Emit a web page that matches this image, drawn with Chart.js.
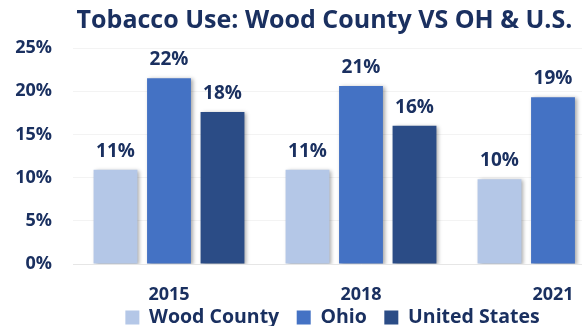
<!DOCTYPE html>
<html>
<head>
<meta charset="utf-8">
<script src="https://cdn.jsdelivr.net/npm/chart.js@4"></script>
<style>
  html, body { margin: 0; padding: 0; background: #fff; overflow: hidden; }
  #wrap { width: 660px; height: 326px; }
</style>
</head>
<body>
<div id="wrap"><canvas id="chart"></canvas></div>
<script>
// values (percent)
var years = ['2015', '2018', '2021'];
var woodCounty = [10.9, 10.9, 9.8];
var ohio = [21.5, 20.6, 19.3];
var unitedStates = [17.6, 16.0, 14.0];
var yTicks = [0, 5, 10, 15, 20, 25];

var navy = '#1a3060';
var fontFamily = '"Open Sans", Lato, sans-serif';
var legendPad = 17.5;

// soft shadow under the bars
var barShadow = {
  id: 'barShadow',
  beforeDatasetsDraw: function(chart) {
    var ctx = chart.ctx;
    ctx.save();
    ctx.shadowColor = 'rgba(0,0,0,0.35)';
    ctx.shadowBlur = 4;
    ctx.shadowOffsetX = 2;
    ctx.shadowOffsetY = 1;
  },
  afterDatasetsDraw: function(chart) {
    chart.ctx.restore();
  }
};

// value labels above each bar
var valueLabels = {
  id: 'valueLabels',
  afterDatasetsDraw: function(chart) {
    var ctx = chart.ctx;
    ctx.save();
    ctx.font = 'bold 19px ' + fontFamily;
    ctx.fillStyle = navy;
    ctx.textAlign = 'center';
    ctx.textBaseline = 'alphabetic';
    chart.data.datasets.forEach(function(ds, i) {
      var meta = chart.getDatasetMeta(i);
      meta.data.forEach(function(bar, j) {
        ctx.fillText(Math.round(ds.data[j]) + '%', bar.x, bar.y - 13);
      });
    });
    ctx.restore();
  }
};

// legend item padding also pads the top of the legend box; pull it back up
var legendLift = {
  id: 'legendLift',
  afterLayout: function(chart) {
    var lg = chart.legend;
    lg.top -= legendPad - 1.75;
    lg.bottom -= legendPad - 1.75;
    lg.left += 8;
    lg.right += 8;
  }
};

var ctx = document.getElementById('chart').getContext('2d');
var chart = new Chart(ctx, {
  type: 'bar',
  data: {
    labels: years,
    datasets: [
      { label: 'Wood County', data: woodCounty, backgroundColor: '#b4c7e7' },
      { label: 'Ohio', data: ohio, backgroundColor: '#4472c4' },
      { label: 'United States', data: unitedStates, backgroundColor: '#2b4c86' }
    ]
  },
  options: {
    responsive: true,
    maintainAspectRatio: false,
    animation: false,
    categoryPercentage: 0.836,
    barPercentage: 0.82,
    layout: { padding: { left: 0, right: 11, top: 0, bottom: -(9.5 + legendPad) } },
    plugins: {
      title: {
        display: true,
        text: 'Tobacco Use: Wood County VS OH & U.S.',
        color: navy,
        font: { family: fontFamily, size: 25, weight: 'bold' },
        padding: { top: 6, bottom: 12 }
      },
      legend: {
        position: 'bottom',
        labels: {
          color: navy,
          font: { family: fontFamily, size: 19.5, weight: 'bold' },
          boxWidth: 14,
          boxHeight: 14,
          padding: legendPad
        }
      },
      tooltip: { enabled: false }
    },
    scales: {
      x: {
        afterFit: function(scale) { scale.height = 42; },
        grid: { display: false, drawTicks: false },
        border: { color: '#e6e6e6' },
        ticks: {
          color: navy,
          font: { family: fontFamily, size: 18, weight: 'bold' },
          padding: 20
        }
      },
      y: {
        min: 0,
        max: 25,
        afterBuildTicks: function(scale) {
          scale.ticks = yTicks.map(function(v) { return { value: v }; });
        },
        afterFit: function(scale) { scale.width = 73; },
        grid: { color: '#f3f3f3', drawTicks: false },
        border: { display: false },
        ticks: {
          color: navy,
          font: { family: fontFamily, size: 18, weight: 'bold' },
          padding: 21,
          callback: function(v) { return v + '%'; }
        }
      }
    }
  },
  plugins: [barShadow, valueLabels, legendLift]
});
</script>
</body>
</html>
